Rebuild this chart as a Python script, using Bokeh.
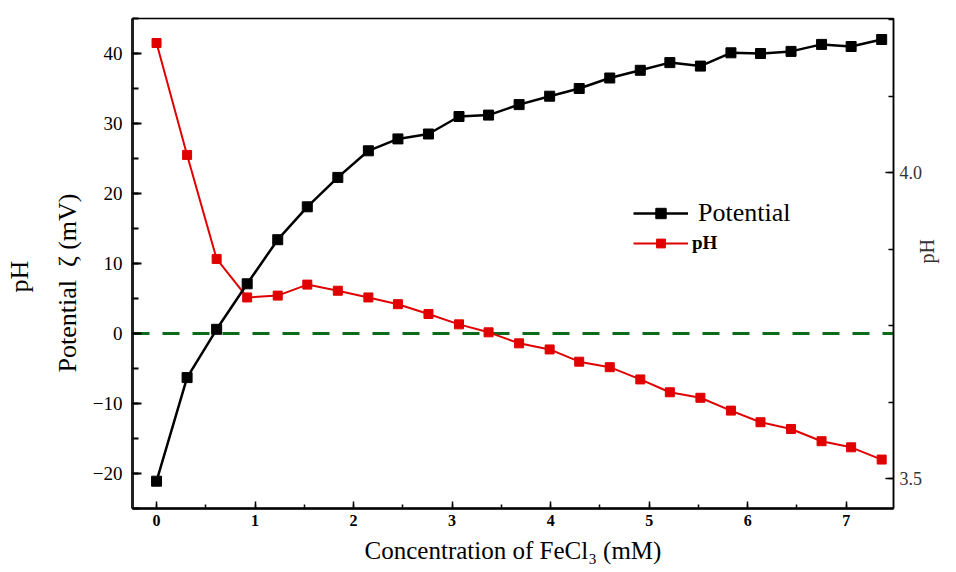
import math
from bokeh.plotting import figure
from bokeh.models import (Range1d, LinearAxis, FixedTicker, Span, Legend,
                          LegendItem, CustomJSTickFormatter)
from bokeh.embed import file_html
from bokeh.resources import INLINE

# ---- data ----
conc = [0.00, 0.31, 0.61, 0.92, 1.23, 1.53, 1.84, 2.15, 2.45, 2.76, 3.07, 3.37,
        3.68, 3.99, 4.29, 4.60, 4.91, 5.21, 5.52, 5.83, 6.13, 6.44, 6.75, 7.05, 7.36]
potential = [-21.1, -6.3, 0.6, 7.1, 13.4, 18.1, 22.3, 26.1, 27.8, 28.5, 31.0, 31.2,
             32.7, 33.9, 35.0, 36.5, 37.6, 38.7, 38.2, 40.1, 40.0, 40.3, 41.3, 41.0, 42.0]
ph = [4.212, 4.029, 3.859, 3.796, 3.799, 3.817, 3.807, 3.796, 3.785, 3.769, 3.752, 3.739,
      3.721, 3.711, 3.691, 3.682, 3.662, 3.641, 3.632, 3.611, 3.592, 3.581, 3.561, 3.551, 3.531]
x_ticks = [0, 1, 2, 3, 4, 5, 6, 7]
left_ticks = [-20, -10, 0, 10, 20, 30, 40]
right_ticks = [3.5, 4.0]

FONT = "Liberation Serif"
RED = "#e00000"
GREEN = "#0c6b1a"
NB = "\u00a0"

p = figure(width=956, height=572, output_backend="svg", toolbar_location=None,
           x_range=Range1d(-0.244, 7.48), y_range=Range1d(-25, 45),
           min_border_left=132, min_border_right=63, min_border_top=18,
           min_border_bottom=64)
p.extra_y_ranges = {"ph": Range1d(3.451, 4.252)}
p.grid.visible = False
p.outline_line_color = "black"
p.outline_line_width = 1.5
p.background_fill_color = "white"
p.border_fill_color = "white"

# zero line
zero = Span(location=0, dimension="width", line_color=GREEN, line_width=3,
            line_dash="17 13", level="underlay")
p.add_layout(zero)

# series
rl = p.line(conc, ph, y_range_name="ph", line_color=RED, line_width=2)
rs = p.scatter(conc, ph, y_range_name="ph", marker="square", size=9,
               fill_color=RED, line_color=RED)
bl = p.line(conc, potential, line_color="black", line_width=2.5)
bs = p.scatter(conc, potential, marker="square", size=10,
               fill_color="black", line_color="black")

# x axis
xa = p.xaxis[0]
xa.ticker = FixedTicker(ticks=x_ticks,
                        minor_ticks=[v / 2 for v in range(0, 15)])
xa.axis_label = "Concentration of FeCl\u2083 (mM)"
xa.axis_label_text_font = FONT
xa.axis_label_text_font_size = "25px"
xa.axis_label_text_font_style = "normal"
xa.axis_label_text_color = "black"
xa.axis_label_standoff = 8
xa.major_label_text_font = FONT
xa.major_label_text_font_size = "16px"
xa.major_label_text_font_style = "bold"
xa.major_label_text_color = "black"
xa.major_label_standoff = 6
xa.axis_line_width = 2.5
xa.major_tick_in = 7
xa.major_tick_out = 0
xa.minor_tick_in = 4
xa.minor_tick_out = 0
xa.major_tick_line_width = 1.5
xa.minor_tick_line_width = 1.5

# left axis
ya = p.yaxis[0]
ya.ticker = FixedTicker(ticks=left_ticks, minor_ticks=list(range(-25, 46, 5)))
ya.formatter = CustomJSTickFormatter(
    code="return tick < 0 ? '\u2212' + Math.abs(tick) : String(tick);")
ya.axis_label = "Potential" + NB * 2 + "\u03b6 (mV)" + NB * 6
ya.axis_label_text_font = FONT
ya.axis_label_text_font_size = "26px"
ya.axis_label_text_font_style = "normal"
ya.axis_label_text_color = "black"
ya.axis_label_standoff = 8
ya.major_label_text_font = FONT
ya.major_label_text_font_size = "19px"
ya.major_label_text_color = "black"
ya.major_label_standoff = 10
ya.axis_line_width = 3
ya.axis_line_color = "#222222"
ya.major_tick_in = 9
ya.major_tick_out = 0
ya.minor_tick_in = 6
ya.minor_tick_out = 0
ya.major_tick_line_width = 2
ya.minor_tick_line_width = 2

# outer left "pH" label
pa = LinearAxis(ticker=FixedTicker(ticks=[]), axis_label="pH" + NB * 4,
                axis_line_color=None, major_tick_line_color=None,
                minor_tick_line_color=None, major_label_text_font_size="0px",
                major_label_standoff=0, axis_label_standoff=16,
                axis_label_text_font=FONT, axis_label_text_font_size="26px",
                axis_label_text_font_style="normal",
                axis_label_text_color="black")
p.add_layout(pa, "left")

# right axis
ra = LinearAxis(y_range_name="ph",
                ticker=FixedTicker(ticks=right_ticks,
                                   minor_ticks=[3.5, 3.625, 3.75, 3.875, 4.0, 4.125, 4.25]),
                axis_label="pH" + NB * 6)
ra.formatter = CustomJSTickFormatter(code="return tick.toFixed(1);")
ra.axis_label_text_font = FONT
ra.axis_label_text_font_size = "20px"
ra.axis_label_text_font_style = "normal"
ra.axis_label_text_color = "#333333"
ra.axis_label_text_line_height = 1.0
ra.axis_label_standoff = 2
ra.major_label_text_font = FONT
ra.major_label_text_font_size = "18px"
ra.major_label_text_color = "#333333"
ra.major_label_standoff = 6
ra.axis_line_width = 1.5
ra.major_tick_in = 8
ra.major_tick_out = 0
ra.minor_tick_in = 5
ra.minor_tick_out = 0
ra.major_tick_line_width = 1.5
ra.minor_tick_line_width = 1.5
if "axis_label_orientation" in ra.properties():
    ra.axis_label_orientation = math.pi / 2
p.add_layout(ra, "right")

# legends
leg1 = Legend(items=[LegendItem(label="Potential", renderers=[bl, bs])],
              location=(501, 280), padding=0, margin=0, glyph_width=55,
              glyph_height=26, label_standoff=10, border_line_alpha=0,
              background_fill_alpha=0, label_text_font=FONT,
              label_text_font_size="26px", label_height=26,
              label_text_color="black")
leg2 = Legend(items=[LegendItem(label="pH", renderers=[rl, rs])],
              location=(501, 254), padding=0, margin=0, glyph_width=55,
              glyph_height=22, label_standoff=4, border_line_alpha=0,
              background_fill_alpha=0, label_text_font=FONT,
              label_text_font_size="19px", label_text_font_style="bold",
              label_height=22, label_text_color="black")
p.add_layout(leg1)
p.add_layout(leg2)

open("out.html", "w").write(file_html(p, INLINE))
